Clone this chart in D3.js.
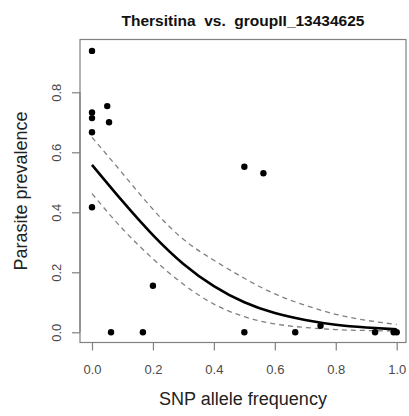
<!DOCTYPE html>
<html>
<head>
<meta charset="utf-8">
<script src="https://cdn.jsdelivr.net/npm/d3@7"></script>
<style>
  body { margin: 0; background: #fff; }
  text { font-family: "Liberation Sans", Arial, Helvetica, sans-serif; }
</style>
</head>
<body>
<script>
// observed points: SNP allele frequency vs parasite prevalence
var snpFreq    = [0, 0, 0, 0, 0, 0.05, 0.056, 0.0625, 0.167, 0.2, 0.5, 0.5, 0.5625, 0.667, 0.75, 0.929, 0.99, 1.0];
var prevalence = [0.938, 0.733, 0.714, 0.667, 0.417, 0.754, 0.70, 0, 0, 0.155, 0.552, 0, 0.53, 0, 0.022, 0, 0, 0];

// fitted curve and dashed confidence band
var fitX     = [0, 0.1, 0.2, 0.3, 0.4, 0.5, 0.6, 0.7, 0.8, 0.9, 1.0];
var fitMean  = [0.558, 0.437, 0.324, 0.228, 0.154, 0.100, 0.064, 0.041, 0.025, 0.016, 0.010];
var fitUpper = [0.650, 0.530, 0.410, 0.310, 0.240, 0.180, 0.128, 0.090, 0.060, 0.040, 0.026];
var fitLower = [0.462, 0.345, 0.245, 0.160, 0.094, 0.052, 0.028, 0.016, 0.009, 0.006, 0.004];

var xTicks = [0, 0.2, 0.4, 0.6, 0.8, 1.0];
var yTicks = [0, 0.2, 0.4, 0.6, 0.8];

var width = 409, height = 416;
var box = {left: 80, right: 406, top: 39.5, bottom: 342.5};

var svg = d3.select("body").append("svg")
    .attr("width", width)
    .attr("height", height);

var x = d3.scaleLinear().domain([0, 1]).range([92, 396.7]);
var y = d3.scaleLinear().domain([0, 0.8]).range([332.3, 92.3]);

//plot frame
svg.append("rect")
    .attr("x", box.left)
    .attr("y", box.top)
    .attr("width", box.right - box.left)
    .attr("height", box.bottom - box.top)
    .attr("fill", "none")
    .attr("stroke", "#808080")
    .attr("stroke-width", 1.2);

//axes
var xAxis = svg.append("g")
    .attr("transform", "translate(0," + box.bottom + ")")
    .call(d3.axisBottom(x).tickValues(xTicks).tickFormat(d3.format(".1f")).tickSize(8).tickPadding(14));

var yAxis = svg.append("g")
    .attr("transform", "translate(" + box.left + ",0)")
    .call(d3.axisLeft(y).tickValues(yTicks).tickFormat(d3.format(".1f")).tickSize(8).tickSizeOuter(0));

[xAxis, yAxis].forEach(function(g) {
    g.select(".domain").attr("stroke", "#808080").attr("stroke-width", 1.2);
    g.selectAll(".tick line").attr("stroke", "#808080").attr("stroke-width", 1.2);
    g.selectAll(".tick text")
        .attr("fill", "#4a4a4a")
        .style("font-size", "13px");
});

// R draws the axis line only from first to last tick
xAxis.select(".domain").attr("d", "M" + x(0) + ",0H" + x(1));
yAxis.select(".domain").attr("d", "M0," + y(0) + "V" + y(0.8));

yAxis.selectAll(".tick text")
    .attr("x", null).attr("dy", null)
    .attr("text-anchor", "middle")
    .attr("transform", "translate(-19,0) rotate(-90)");

//curves
var lineGen = d3.line()
    .x(function(d) { return x(d[0]); })
    .y(function(d) { return y(d[1]); })
    .curve(d3.curveNatural);

function pairs(vals) {
    return fitX.map(function(v, i) { return [v, vals[i]]; });
}

svg.append("path")
    .attr("d", lineGen(pairs(fitUpper)))
    .attr("fill", "none")
    .attr("stroke", "#808080")
    .attr("stroke-width", 1.3)
    .attr("stroke-dasharray", "5 4");

svg.append("path")
    .attr("d", lineGen(pairs(fitLower)))
    .attr("fill", "none")
    .attr("stroke", "#808080")
    .attr("stroke-width", 1.3)
    .attr("stroke-dasharray", "5 4");

svg.append("path")
    .attr("d", lineGen(pairs(fitMean)))
    .attr("fill", "none")
    .attr("stroke", "#000")
    .attr("stroke-width", 2.6);

//points
svg.selectAll("circle.pt")
    .data(snpFreq)
    .enter().append("circle")
    .attr("class", "pt")
    .attr("cx", function(d) { return x(d); })
    .attr("cy", function(d, i) { return y(prevalence[i]); })
    .attr("r", 3.2)
    .attr("fill", "#000");

//titles
svg.append("text")
    .attr("x", (box.left + box.right) / 2)
    .attr("y", 26)
    .attr("text-anchor", "middle")
    .style("font-size", "15.5px")
    .style("font-weight", "bold")
    .style("white-space", "pre")
    .attr("fill", "#111")
    .text("Thersitina  vs.  groupII_13434625");

svg.append("text")
    .attr("x", (box.left + box.right) / 2)
    .attr("y", 405)
    .attr("text-anchor", "middle")
    .style("font-size", "18px")
    .attr("fill", "#222")
    .text("SNP allele frequency");

svg.append("text")
    .attr("transform", "translate(27," + ((box.top + box.bottom) / 2) + ") rotate(-90)")
    .attr("text-anchor", "middle")
    .style("font-size", "18px")
    .attr("fill", "#222")
    .text("Parasite prevalence");
</script>
</body>
</html>
